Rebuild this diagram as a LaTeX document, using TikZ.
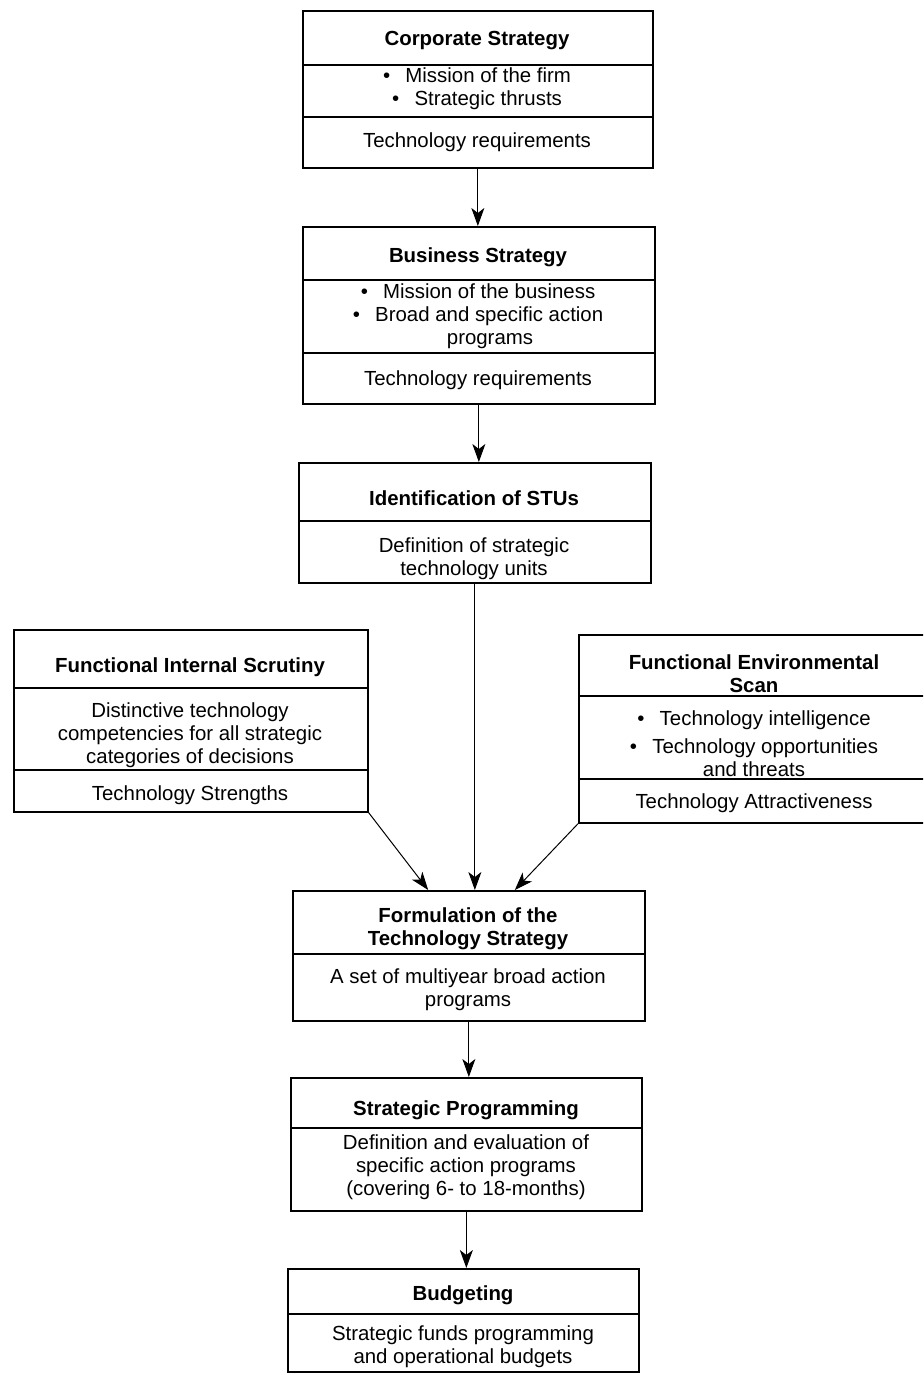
\documentclass[tikz,border=0pt]{standalone}
\usepackage{fontspec}
\setmainfont{Liberation Sans}
\usetikzlibrary{arrows.meta,calc}
\tikzset{
  boxshape/.style={draw, line width=1.7pt, rectangle, anchor=north west, inner sep=0pt},
  divider/.style={line width=1.2pt},
  txt/.style={align=center, inner sep=0pt, yshift=-2.5pt, font=\fontsize{20.4}{23}\selectfont},
  ttl/.style={align=center, inner sep=0pt, yshift=-2.5pt, font=\bfseries\fontsize{20.4}{23}\selectfont},
  conn/.style={line width=1pt, -{Stealth[length=18pt,width=13pt,inset=5pt]}}
}
\newcommand{\bul}{\textbullet\hspace{0.75em}}
\begin{document}
\begin{tikzpicture}[x=1pt,y=-1pt]
\useasboundingbox (0,0) rectangle (923,1375);
\clip (0,0) rectangle (923,1375);
\fill[white] (0,0) rectangle (923,1375);

% Box 1: Corporate Strategy
\node[boxshape, minimum width=350pt, minimum height=157pt] (b1) at (302,10) {};
\draw[divider] (b1.west |- 0,65) -- (b1.east |- 0,65);
\draw[divider] (b1.west |- 0,117) -- (b1.east |- 0,117);
\node[ttl] (b1t) at (477,38) {Corporate Strategy};
\node[txt] (b1a) at (477,86.5) {\bul Mission of the firm\\ \bul Strategic thrusts};
\node[txt] (b1b) at (477,140) {Technology requirements};

% Box 2: Business Strategy
\node[boxshape, minimum width=352pt, minimum height=177pt] (b2) at (302,226) {};
\draw[divider] (b2.west |- 0,280) -- (b2.east |- 0,280);
\draw[divider] (b2.west |- 0,353) -- (b2.east |- 0,353);
\node[ttl] (b2t) at (478,255) {Business Strategy};
\node[txt] (b2a) at (478,314) {\bul Mission of the business\\ \bul Broad and specific action\\ \hspace*{24pt}programs};
\node[txt] (b2b) at (478,378) {Technology requirements};

% Box 3: Identification of STUs
\node[boxshape, minimum width=352pt, minimum height=120pt] (b3) at (298,462) {};
\draw[divider] (b3.west |- 0,521) -- (b3.east |- 0,521);
\node[ttl] (b3t) at (474,496) {Identification of STUs};
\node[txt] (b3a) at (474,556) {Definition of strategic\\ technology units};

% Box 4: Functional Internal Scrutiny
\node[boxshape, minimum width=354pt, minimum height=182pt] (b4) at (13,629) {};
\draw[divider] (b4.west |- 0,688) -- (b4.east |- 0,688);
\draw[divider] (b4.west |- 0,770) -- (b4.east |- 0,770);
\node[ttl] (b4t) at (190,665) {Functional Internal Scrutiny};
\node[txt] (b4a) at (190,733) {Distinctive technology\\ competencies for all strategic\\ categories of decisions};
\node[txt] (b4b) at (190,793) {Technology Strengths};

% Box 5: Functional Environmental Scan (runs off the right edge)
\node[boxshape, minimum width=352pt, minimum height=188pt] (b5) at (578,634) {};
\draw[divider] (b5.west |- 0,696) -- (b5.east |- 0,696);
\draw[divider] (b5.west |- 0,779) -- (b5.east |- 0,779);
\node[ttl] (b5t) at (754,671) {Functional Environmental\\ Scan};
\node[txt] (b5a) at (754,741) {\bul Technology intelligence\\[5pt] \bul Technology opportunities\\ and threats};
\node[txt] (b5b) at (754,801) {Technology Attractiveness};

% Box 6: Formulation of the Technology Strategy
\node[boxshape, minimum width=352pt, minimum height=130pt] (b6) at (292,890) {};
\draw[divider] (b6.west |- 0,954) -- (b6.east |- 0,954);
\node[ttl] (b6t) at (468,926) {Formulation of the\\ Technology Strategy};
\node[txt] (b6a) at (468,987) {A set of multiyear broad action\\ programs};

% Box 7: Strategic Programming
\node[boxshape, minimum width=351pt, minimum height=133pt] (b7) at (290,1077) {};
\draw[divider] (b7.west |- 0,1128) -- (b7.east |- 0,1128);
\node[ttl] (b7t) at (466,1108) {Strategic Programming};
\node[txt] (b7a) at (466,1165) {Definition and evaluation of\\ specific action programs\\ (covering 6- to 18-months)};

% Box 8: Budgeting
\node[boxshape, minimum width=351pt, minimum height=103pt] (b8) at (287,1268) {};
\draw[divider] (b8.west |- 0,1314) -- (b8.east |- 0,1314);
\node[ttl] (b8t) at (463,1293) {Budgeting};
\node[txt] (b8a) at (463,1344) {Strategic funds programming\\ and operational budgets};

% Connectors
\coordinate (b6inL) at ($(b6.north west)!0.385!(b6.north east)$);
\coordinate (b6inR) at ($(b6.north west)!0.63!(b6.north east)$);
\draw[conn] (b1.south) -- (b1.south |- b2.north);
\draw[conn] (b2.south) -- (b2.south |- b3.north);
\draw[conn] (b3.south) -- (b3.south |- b6.north);
\draw[conn] (b4.south east) -- (b6inL);
\draw[conn] (b5.south west) -- (b6inR);
\draw[conn] (b6.south) -- (b6.south |- b7.north);
\draw[conn] (b7.south) -- (b7.south |- b8.north);
\end{tikzpicture}
\end{document}
